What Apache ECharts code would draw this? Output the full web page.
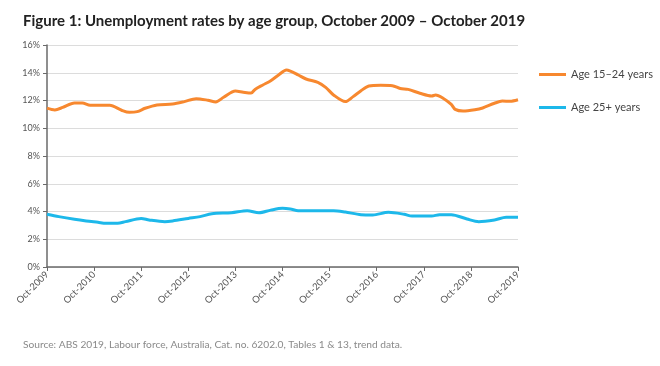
<!DOCTYPE html>
<html>
<head>
<meta charset="utf-8">
<script src="https://cdn.jsdelivr.net/npm/echarts@6/dist/echarts.min.js"></script>
<style>html,body{margin:0;padding:0;background:#fff;}#c{width:660px;height:366px;}</style>
</head>
<body>
<div id="c"></div>
<script>
// Months since Oct-2009 and rates (%)
const youthMonths = [0,2,4,7,9,11,16,19,21,23,25,28,32,35,38,41,43,45,48,50,52,53,55,57,59,61,62,64,66,69,71,73,76,78,80,82,85,88,90,92,95,98,99,101,103,104,106,109,111,114,116,118,120];
const youthRates  = [11.45,11.32,11.5,11.82,11.82,11.65,11.65,11.3,11.15,11.2,11.44,11.68,11.75,11.92,12.13,12.02,11.9,12.23,12.68,12.6,12.54,12.8,13.12,13.43,13.84,14.2,14.12,13.84,13.55,13.31,12.95,12.4,11.92,12.28,12.7,13.05,13.1,13.07,12.86,12.8,12.52,12.32,12.4,12.15,11.72,11.36,11.24,11.33,11.46,11.8,11.96,11.94,12.05];
const adultMonths = [0,3,7,10,13,15,18,20,24,26,30,32,36,39,42,47,51,54,57,60,62,64,68,73,76,80,83,87,91,93,98,100,103,107,110,114,117,120];
const adultRates  = [3.8,3.63,3.44,3.32,3.22,3.15,3.15,3.27,3.5,3.39,3.27,3.32,3.5,3.63,3.84,3.91,4.06,3.91,4.1,4.23,4.18,4.06,4.06,4.06,3.96,3.77,3.75,3.94,3.8,3.67,3.67,3.77,3.77,3.46,3.27,3.39,3.58,3.58];
const seriesNames = ['Age 15\u201324 years', 'Age 25+ years'];
const startYear = 2009;
const yTicks = [0,2,4,6,8,10,12,14,16];

const font = 'Lato, "Open Sans", sans-serif';
const chart = echarts.init(document.getElementById('c'));
chart.setOption({
  animation: false,
  textStyle: { fontFamily: font },
  title: [
    { text: 'Figure 1: Unemployment rates by age group, October 2009 \u2013 October 2019', left: 18, top: 9,
      textStyle: { fontFamily: font, fontSize: 15, fontWeight: 'bold', color: '#222' } },
    { text: 'Source: ABS 2019, Labour force, Australia, Cat. no. 6202.0, Tables 1 & 13, trend data.', left: 18, top: 335,
      textStyle: { fontFamily: font, fontSize: 10.2, fontWeight: 'normal', color: '#8a8a8a' } }
  ],
  legend: {
    orient: 'vertical', left: 534, top: 64, itemGap: 22, itemWidth: 27, itemHeight: 12,
    icon: 'path://M0,5 L27,5 L27,8 L0,8 Z',
    textStyle: { fontFamily: font, fontSize: 11, color: '#444' },
    data: seriesNames
  },
  grid: { left: 47, right: 142, top: 45, bottom: 99, containLabel: false },
  xAxis: {
    type: 'value', min: 0, max: 120, interval: 12,
    axisLine: { show: true, lineStyle: { color: '#6a6a6a', width: 1.5 } },
    axisTick: { show: true, length: 4, lineStyle: { color: '#6a6a6a' } },
    splitLine: { show: false },
    axisLabel: { rotate: 45, fontSize: 9.5, color: '#555', margin: 6,
      formatter: v => 'Oct-' + (startYear + Math.round(v / 12)) }
  },
  yAxis: {
    type: 'value', min: yTicks[0], max: yTicks[yTicks.length - 1], interval: 2,
    axisLine: { show: true, lineStyle: { color: '#6a6a6a', width: 1.5 } },
    axisTick: { show: true, length: 4, lineStyle: { color: '#6a6a6a' } },
    splitLine: { show: true, lineStyle: { color: '#dcdcdc', width: 1 } },
    axisLabel: { fontSize: 9, color: '#555', margin: 7, formatter: v => v + '%' }
  },
  series: [
    { name: seriesNames[0], type: 'line', smooth: 0.3, showSymbol: false,
      lineStyle: { color: '#F7882F', width: 3 }, itemStyle: { color: '#F7882F' },
      data: youthMonths.map((m, i) => [m, youthRates[i]]) },
    { name: seriesNames[1], type: 'line', smooth: 0.3, showSymbol: false,
      lineStyle: { color: '#1DB8EA', width: 3 }, itemStyle: { color: '#1DB8EA' },
      data: adultMonths.map((m, i) => [m, adultRates[i]]) }
  ]
});
</script>
</body>
</html>
